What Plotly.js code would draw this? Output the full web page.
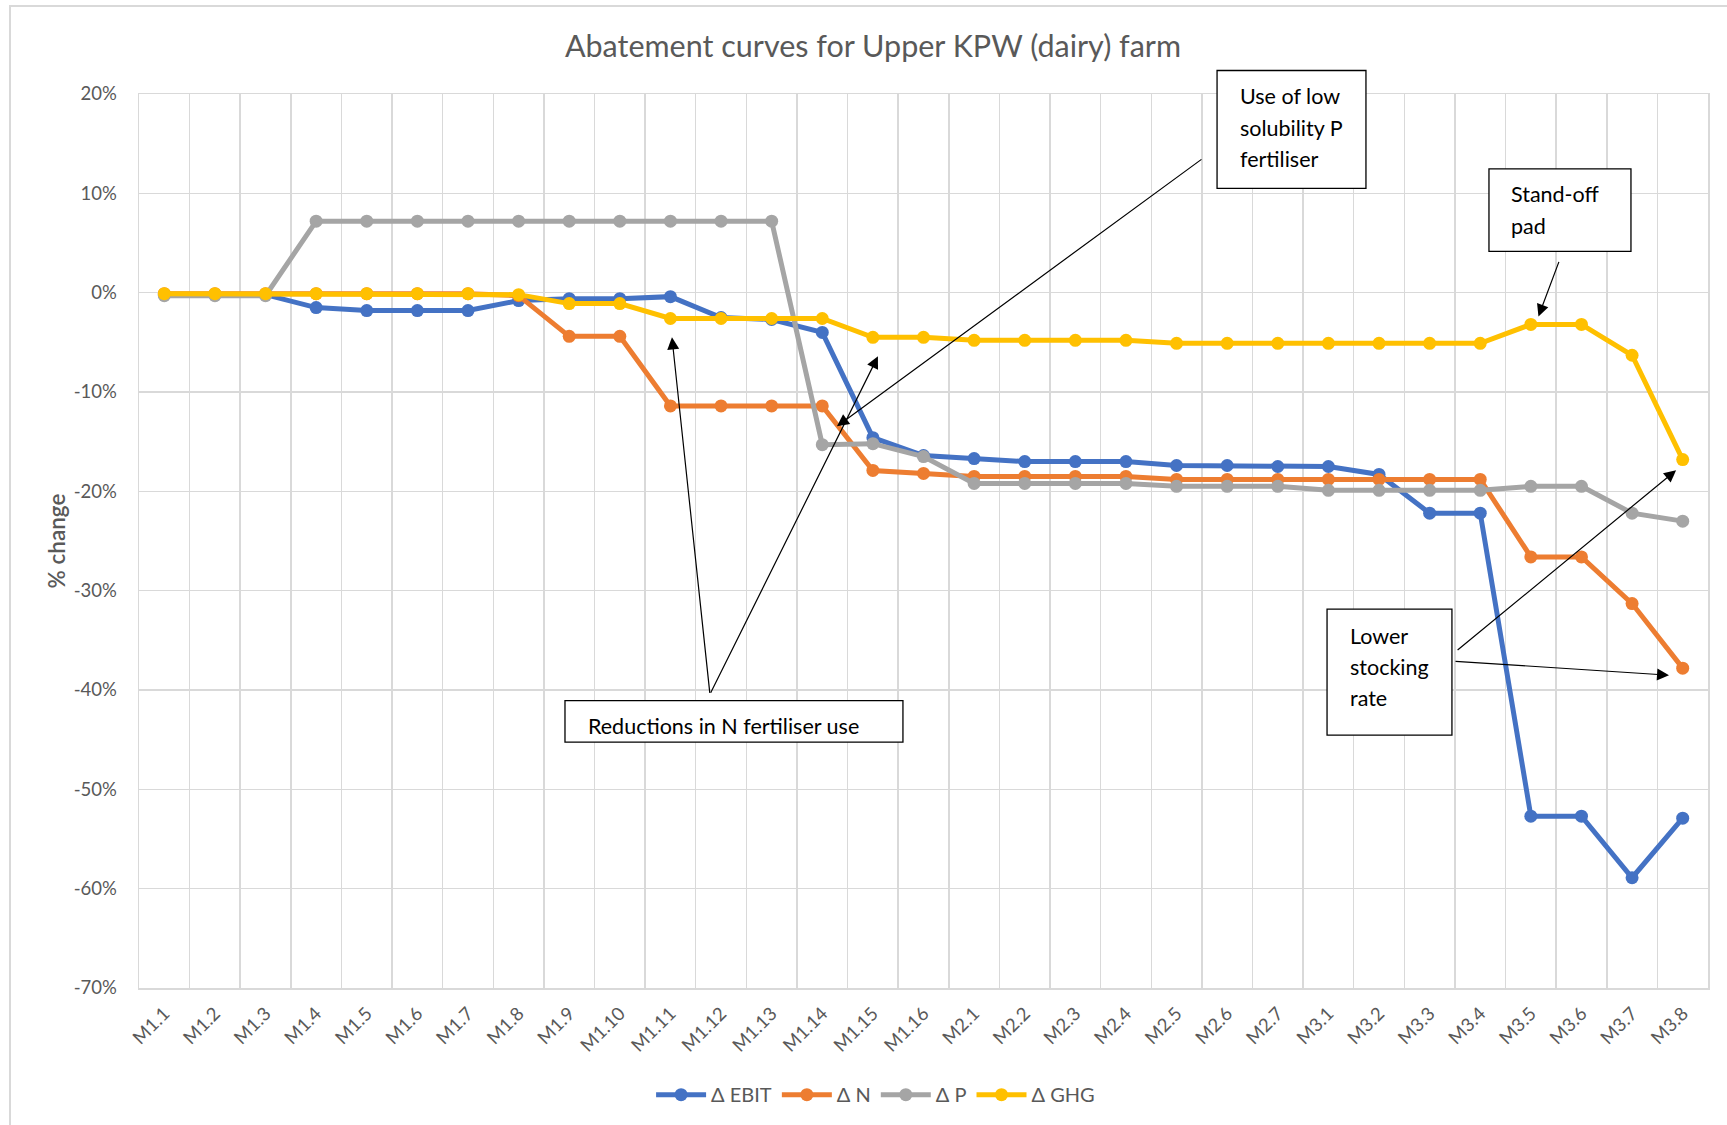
<!DOCTYPE html>
<html>
<head>
<meta charset="utf-8">
<script src="https://cdn.plot.ly/plotly-3.0.1.min.js"></script>
<style>
  html, body { margin: 0; padding: 0; background: #ffffff; overflow: hidden; }
  #chart { position: absolute; left: 0; top: 0; width: 1727px; height: 1125px; }
  #frame { position: absolute; left: 9px; top: 5px; width: 1740px; height: 1140px;
           border-left: 2px solid #D9D9D9; border-top: 2px solid #D9D9D9; pointer-events: none; }
</style>
</head>
<body>
<div id="chart"></div>
<div id="frame"></div>
<script>
// ---- data ----
const categories = ["M1.1","M1.2","M1.3","M1.4","M1.5","M1.6","M1.7","M1.8","M1.9","M1.10",
  "M1.11","M1.12","M1.13","M1.14","M1.15","M1.16","M2.1","M2.2","M2.3","M2.4","M2.5","M2.6",
  "M2.7","M3.1","M3.2","M3.3","M3.4","M3.5","M3.6","M3.7","M3.8"];

const deltaEBIT = [-0.2, -0.2, -0.2, -1.5, -1.8, -1.8, -1.8, -0.8, -0.6, -0.6, -0.4, -2.5, -2.7, -4.0,
  -14.6, -16.4, -16.7, -17.0, -17.0, -17.0, -17.4, -17.4, -17.5, -17.5, -18.3, -22.2, -22.2,
  -52.7, -52.7, -58.9, -52.9];

const deltaN = [-0.1, -0.1, -0.1, -0.1, -0.1, -0.1, -0.1, -0.3, -4.4, -4.4, -11.4, -11.4, -11.4, -11.4,
  -17.9, -18.2, -18.5, -18.5, -18.5, -18.5, -18.8, -18.8, -18.8, -18.8, -18.8, -18.8, -18.8,
  -26.6, -26.6, -31.3, -37.8];

const deltaP = [-0.3, -0.3, -0.3, 7.2, 7.2, 7.2, 7.2, 7.2, 7.2, 7.2, 7.2, 7.2, 7.2, -15.3,
  -15.2, -16.5, -19.2, -19.2, -19.2, -19.2, -19.5, -19.5, -19.5, -19.9, -19.9, -19.9, -19.9,
  -19.5, -19.5, -22.2, -23.0];

const deltaGHG = [-0.1, -0.1, -0.1, -0.1, -0.1, -0.1, -0.1, -0.2, -1.1, -1.1, -2.6, -2.6, -2.6, -2.6,
  -4.5, -4.5, -4.8, -4.8, -4.8, -4.8, -5.1, -5.1, -5.1, -5.1, -5.1, -5.1, -5.1,
  -3.2, -3.2, -6.3, -16.8];

const seriesNames = ["\u0394 EBIT", "\u0394 N", "\u0394 P", "\u0394 GHG"];
const seriesColors = ["#4472C4", "#ED7D31", "#A5A5A5", "#FFC000"];

const yTickVals = [20, 10, 0, -10, -20, -30, -40, -50, -60, -70];
const yTickText = ["20%", "10%", "0%", "-10%", "-20%", "-30%", "-40%", "-50%", "-60%", "-70%"];

const chartTitle = "Abatement curves for Upper KPW (dairy) farm";
const yTitle = "% change";

// callout text lines
const noteP = ["Use of low", "solubility P", "fertiliser"];
const notePad = ["Stand-off", "pad"];
const noteN = ["Reductions in N fertiliser use"];
const noteStock = ["Lower", "stocking", "rate"];

// ---- build ----
const FONT = "Lato, 'Liberation Sans', sans-serif";
const GREY = "#595959";
const GRID = "#D9D9D9";

const allSeries = [deltaEBIT, deltaN, deltaP, deltaGHG];
const traces = allSeries.map((vals, i) => ({
  type: "scatter",
  mode: "lines+markers",
  name: seriesNames[i],
  x: categories,
  y: vals,
  line: { color: seriesColors[i], width: 5 },
  marker: { color: seriesColors[i], size: 13 },
  hoverinfo: "skip"
}));

const boxLine = { color: "#000000", width: 1.3 };
const boxFont = { family: FONT, size: 21.5, color: "#000000" };
const arrowBase = { showarrow: true, text: "", arrowhead: 2, arrowsize: 2, arrowwidth: 1.2,
  arrowcolor: "#000000", standoff: 0, startstandoff: 0, xref: "x", yref: "y", axref: "pixel", ayref: "pixel" };

function lines(arr, x, ys) {
  return arr.map((t, i) => ({ text: t, xref: "paper", yref: "paper", x: x, y: ys[i],
    xanchor: "left", yanchor: "middle", align: "left", showarrow: false, font: boxFont }));
}

const annotations = [].concat(
  lines(noteP, 0.7004, [0.9974, 0.9617, 0.9272]),
  lines(notePad, 0.8732, [0.8879, 0.8521]),
  lines(noteN, 0.2849, [0.2931]),
  lines(noteStock, 0.7706, [0.3941, 0.3596, 0.3239]),
  [
    Object.assign({}, arrowBase, { x: 13.29, y: -13.45, ax: 366, ay: -268 }),
    Object.assign({}, arrowBase, { x: 27.15, y: -2.39, ax: 21, ay: -56 }),
    Object.assign({}, arrowBase, { x: 10.03, y: -4.5, ax: 38, ay: 357 }),
    Object.assign({}, arrowBase, { x: 14.10, y: -6.41, ax: -168, ay: 338 }),
    Object.assign({}, arrowBase, { x: 29.87, y: -17.88, ax: -220, ay: 181 }),
    Object.assign({}, arrowBase, { x: 29.73, y: -38.51, ax: -215, ay: -14 })
  ]
);

const layout = {
  width: 1727, height: 1125,
  margin: { l: 139, r: 19, t: 93.5, b: 137, autoexpand: false },
  paper_bgcolor: "#ffffff", plot_bgcolor: "#ffffff",
  showlegend: true,
  title: { text: chartTitle, font: { family: FONT, size: 30.5, color: GREY },
           xref: "container", x: 0.5055, xanchor: "center", yref: "container", y: 0.959, yanchor: "middle" },
  xaxis: {
    type: "category", range: [-0.5, 30.5], tickson: "boundaries",
    showgrid: true, gridcolor: GRID, gridwidth: 1.5,
    showline: true, linecolor: GRID, linewidth: 1.5, mirror: true,
    ticks: "", tickangle: -45, ticklabelstandoff: 6,
    tickfont: { family: FONT, size: 18.5, color: GREY }, zeroline: false
  },
  yaxis: {
    range: [-70, 20], tickmode: "array", tickvals: yTickVals, ticktext: yTickText,
    showgrid: true, gridcolor: GRID, gridwidth: 1.5, zeroline: false,
    showline: true, linecolor: GRID, linewidth: 1.5, mirror: true,
    ticks: "", ticklabelstandoff: 17,
    tickfont: { family: FONT, size: 18.5, color: GREY },
    title: { text: yTitle, font: { family: FONT, size: 22.5, color: GREY, weight: 600 }, standoff: 2 }
  },
  legend: {
    orientation: "h", xref: "container", yref: "container", x: 0.507, xanchor: "center",
    y: 0.027, yanchor: "middle", font: { family: FONT, size: 20, color: GREY },
    itemwidth: 50, bgcolor: "rgba(0,0,0,0)"
  },
  shapes: [
    { type: "rect", xref: "paper", yref: "paper", x0: 0.6871, x1: 0.7820, y0: 0.8944, y1: 1.0263, line: boxLine, fillcolor: "#ffffff", layer: "above" },
    { type: "rect", xref: "paper", yref: "paper", x0: 0.8604, x1: 0.9509, y0: 0.8239, y1: 0.9162, line: boxLine, fillcolor: "#ffffff", layer: "above" },
    { type: "rect", xref: "paper", yref: "paper", x0: 0.2715, x1: 0.4869, y0: 0.2750, y1: 0.3214, line: boxLine, fillcolor: "#ffffff", layer: "above" },
    { type: "rect", xref: "paper", yref: "paper", x0: 0.7572, x1: 0.8368, y0: 0.2828, y1: 0.4237, line: boxLine, fillcolor: "#ffffff", layer: "above" }
  ],
  annotations: annotations
};

Plotly.newPlot("chart", traces, layout, { displayModeBar: false, staticPlot: true });
</script>
</body>
</html>
